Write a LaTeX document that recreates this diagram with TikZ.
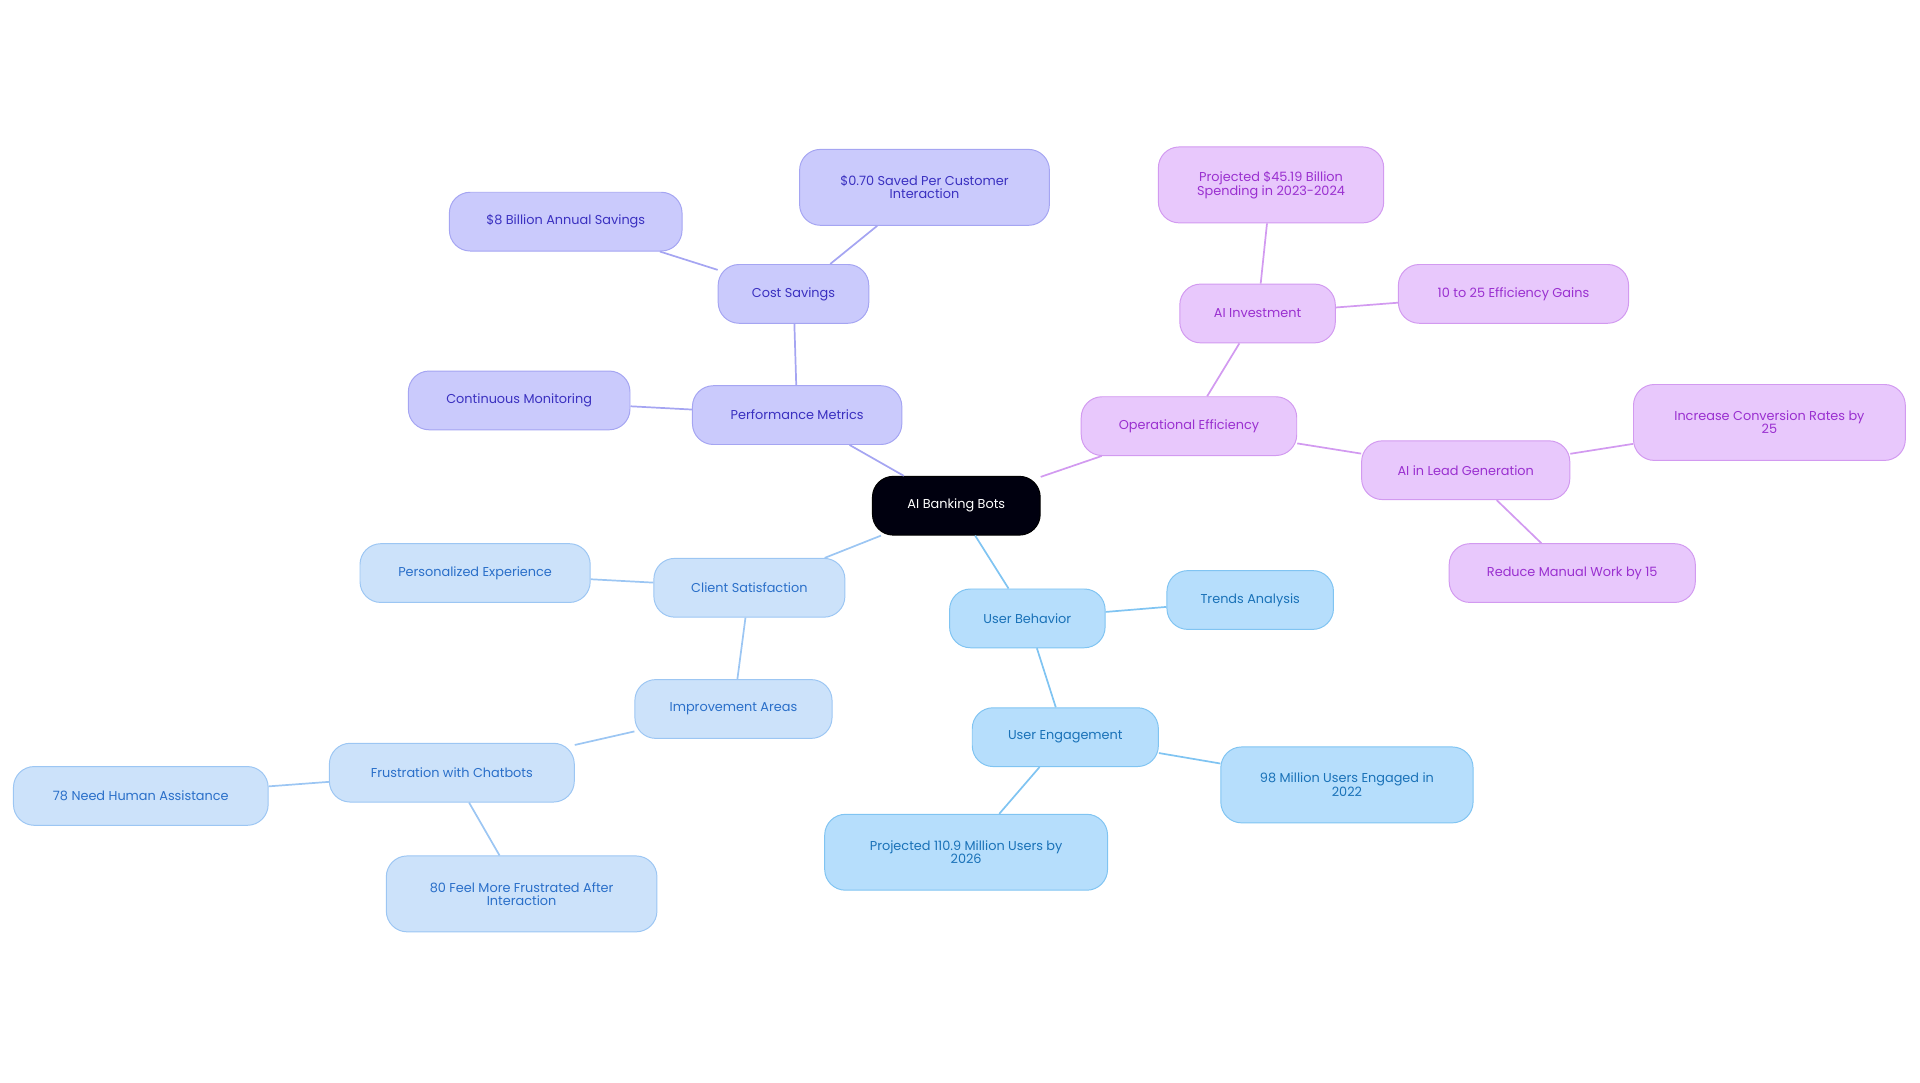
\documentclass[tikz,border=0pt]{standalone}
\usepackage{fontspec}
\setmainfont{Poppins}
\definecolor{pF}{HTML}{CACAFC}\definecolor{pD}{HTML}{A5A5F2}\definecolor{pT}{HTML}{3A30C0}
\definecolor{vF}{HTML}{E8C8FC}\definecolor{vD}{HTML}{D29AF0}\definecolor{vT}{HTML}{9A30D0}
\definecolor{cF}{HTML}{CCE2FA}\definecolor{cD}{HTML}{9CC6F3}\definecolor{cT}{HTML}{2A6FC9}
\definecolor{uF}{HTML}{B6DEFC}\definecolor{uD}{HTML}{80C4F2}\definecolor{uT}{HTML}{1A72B8}
\tikzset{x=1pt,y=-1pt,
 box/.style={rounded corners=17pt,draw,line width=0.8pt,minimum height=48pt,align=center,font=\fontsize{10.5}{10.5}\selectfont,inner sep=2pt},
 pb/.style={box,fill=pF,draw=pD,text=pT},
 vb/.style={box,fill=vF,draw=vD,text=vT},
 cb/.style={box,fill=cF,draw=cD,text=cT},
 ub/.style={box,fill=uF,draw=uD,text=uT},
 tall/.style={minimum height=62pt},
 pe/.style={draw=pD,line width=1.4pt},
 ve/.style={draw=vD,line width=1.4pt},
 ce/.style={draw=cD,line width=1.4pt},
 ue/.style={draw=uD,line width=1.4pt}}
\begin{document}
\begin{tikzpicture}
\useasboundingbox (0,0) rectangle (1568,884);
\node[box,fill=black!85!blue!40!black,draw=black,text=white,minimum width=137pt] (c) at (781,413) {AI Banking Bots};
\node[pb,minimum width=171pt] (pm) at (651,339) {Performance Metrics};
\node[pb,minimum width=123pt] (cs) at (648,240) {Cost Savings};
\node[pb,minimum width=190pt] (b8) at (462,181) {\$8 Billion Annual Savings};
\node[pb,tall,minimum width=204pt] (s70) at (755,153) {\$0.70 Saved Per Customer\\Interaction};
\node[pb,minimum width=181pt] (cm) at (424,327) {Continuous Monitoring};
\node[vb,minimum width=176pt] (oe) at (971,348) {Operational Efficiency};
\node[vb,minimum width=127pt] (ai) at (1027,256) {AI Investment};
\node[vb,tall,minimum width=184pt] (p45) at (1038,151) {Projected \$45.19 Billion\\Spending in 2023-2024};
\node[vb,minimum width=188pt] (e25) at (1236,240) {10 to 25 Efficiency Gains};
\node[vb,minimum width=170pt] (lg) at (1197,384) {AI in Lead Generation};
\node[vb,tall,minimum width=222pt] (icr) at (1445,345) {Increase Conversion Rates by\\25};
\node[vb,minimum width=201pt] (rm) at (1284,468) {Reduce Manual Work by 15};
\node[cb,minimum width=156pt] (csat) at (612,480) {Client Satisfaction};
\node[cb,minimum width=188pt] (pe) at (388,468) {Personalized Experience};
\node[cb,minimum width=161pt] (ia) at (599,579) {Improvement Areas};
\node[cb,minimum width=200pt] (fc) at (369,631) {Frustration with Chatbots};
\node[cb,minimum width=208pt] (n78) at (115,650) {78 Need Human Assistance};
\node[cb,tall,minimum width=221pt] (n80) at (426,730) {80 Feel More Frustrated After\\Interaction};
\node[ub,minimum width=127pt] (ub) at (839,505) {User Behavior};
\node[ub,minimum width=136pt] (ta) at (1021,490) {Trends Analysis};
\node[ub,minimum width=152pt] (ue) at (870,602) {User Engagement};
\node[ub,tall,minimum width=206pt] (m98) at (1100,641) {98 Million Users Engaged in\\2022};
\node[ub,tall,minimum width=231pt] (m110) at (789,696) {Projected 110.9 Million Users by\\2026};
\draw[pe] (c) -- (pm); \draw[pe] (pm) -- (cs); \draw[pe] (cs) -- (b8); \draw[pe] (cs) -- (s70); \draw[pe] (pm) -- (cm);
\draw[ve] (c) -- (oe); \draw[ve] (oe) -- (ai); \draw[ve] (ai) -- (p45); \draw[ve] (ai) -- (e25); \draw[ve] (oe) -- (lg); \draw[ve] (lg) -- (icr); \draw[ve] (lg) -- (rm);
\draw[ce] (c) -- (csat); \draw[ce] (csat) -- (pe); \draw[ce] (csat) -- (ia); \draw[ce] (ia) -- (fc); \draw[ce] (fc) -- (n78); \draw[ce] (fc) -- (n80);
\draw[ue] (c) -- (ub); \draw[ue] (ub) -- (ta); \draw[ue] (ub) -- (ue); \draw[ue] (ue) -- (m98); \draw[ue] (ue) -- (m110);
\end{tikzpicture}
\end{document}
